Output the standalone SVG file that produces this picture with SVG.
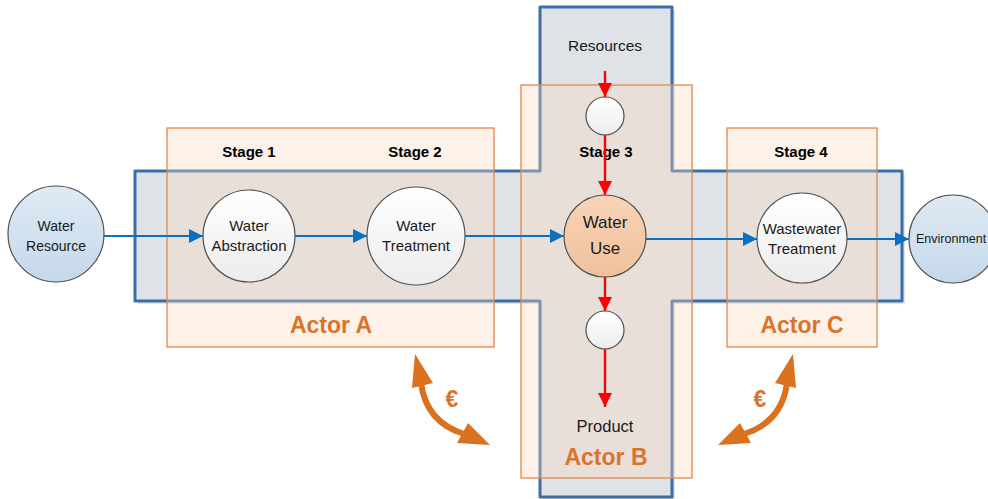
<svg xmlns="http://www.w3.org/2000/svg" width="988" height="499" viewBox="0 0 988 499">
<defs>
<linearGradient id="gWhite" x1="0" y1="0" x2="0" y2="1"><stop offset="0" stop-color="#ffffff"/><stop offset="1" stop-color="#ececec"/></linearGradient>
<linearGradient id="gBlue" x1="0" y1="0" x2="0" y2="1"><stop offset="0" stop-color="#dfeaf4"/><stop offset="1" stop-color="#c4d8ea"/></linearGradient>
<linearGradient id="gOrange" x1="0" y1="0" x2="0" y2="1"><stop offset="0" stop-color="#f7d4b8"/><stop offset="1" stop-color="#f0c09a"/></linearGradient>
<marker id="ab" viewBox="0 0 10 10" refX="10" refY="5" markerWidth="15" markerHeight="14" markerUnits="userSpaceOnUse" orient="auto"><path d="M0,0 L10,5 L0,10 Z" fill="#0b70c0"/></marker>
<marker id="ar" viewBox="0 0 10 10" refX="10" refY="5" markerWidth="15" markerHeight="14" markerUnits="userSpaceOnUse" orient="auto"><path d="M0,0 L10,5 L0,10 Z" fill="#ff0000"/></marker>
<style>
.txt{font-family:"Liberation Sans",Arial,sans-serif;fill:#1a1a1a;text-anchor:middle}
.stage{font-family:"Liberation Sans",Arial,sans-serif;font-weight:bold;font-size:15px;fill:#000;text-anchor:middle}
.actor{font-family:"Liberation Sans",Arial,sans-serif;font-weight:bold;font-size:23px;fill:#d9742b;text-anchor:middle}
.euro{font-family:"Liberation Sans",Arial,sans-serif;font-weight:bold;font-size:23px;fill:#d9742b;text-anchor:middle}
.box{fill:rgb(250,215,190);fill-opacity:0.35;stroke:#e3884a;stroke-width:1.3}
.node{stroke:#505050;stroke-width:1.2}
.flow{stroke:#0b70c0;stroke-width:2.2;fill:none;marker-end:url(#ab)}
.res{stroke:#ff0000;stroke-width:2.4;fill:none;marker-end:url(#ar)}
.pay{stroke:#d9711f;stroke-width:6;fill:none}
.payhead{fill:#d9711f}
</style>
</defs>
<rect width="988" height="499" fill="#ffffff"/>

<g id="system">
<path d="M138,174 H543 V10 H675 V174 H905 V304 H675 V500 H543 V304 H138 Z" fill="#c9c9c9" opacity="0.5"/>
<path d="M135,171 H540 V7 H672 V171 H902 V301 H672 V497 H540 V301 H135 Z" fill="#dfe3e8" stroke="#3b6ea8" stroke-width="3" stroke-linejoin="round"/>
</g>

<g id="actorA"><rect class="box" x="167" y="128" width="327" height="219"/><text class="actor" x="331" y="333">Actor A</text></g>
<g id="actorB"><rect class="box" x="521" y="85" width="171" height="393"/><text class="actor" x="606" y="465">Actor B</text></g>
<g id="actorC"><rect class="box" x="727" y="128" width="150" height="219"/><text class="actor" x="802" y="333">Actor C</text></g>

<g id="stages">
<text class="stage" x="249" y="157">Stage 1</text>
<text class="stage" x="415" y="157">Stage 2</text>
<text class="stage" x="606" y="157">Stage 3</text>
<text class="stage" x="801" y="157">Stage 4</text>
</g>

<g id="resources"><text class="txt" x="605" y="51" font-size="15.5">Resources</text></g>
<g id="product"><text class="txt" x="605" y="432" font-size="16.5">Product</text></g>

<g id="waterResource"><circle class="node" cx="56" cy="234" r="48" fill="url(#gBlue)"/><text class="txt" x="56" y="231" font-size="14">Water</text><text class="txt" x="56" y="251" font-size="14">Resource</text></g>
<g id="waterAbstraction"><circle class="node" cx="249" cy="236" r="46" fill="url(#gWhite)"/><text class="txt" x="249" y="231" font-size="15">Water</text><text class="txt" x="249" y="251" font-size="15">Abstraction</text></g>
<g id="waterTreatment"><circle class="node" cx="416" cy="236" r="49" fill="url(#gWhite)"/><text class="txt" x="416" y="231" font-size="15">Water</text><text class="txt" x="416" y="251" font-size="15">Treatment</text></g>
<g id="waterUse"><circle class="node" cx="605" cy="236" r="41" fill="url(#gOrange)"/><text class="txt" x="605" y="228" font-size="17">Water</text><text class="txt" x="605" y="254" font-size="17">Use</text></g>
<g id="wastewaterTreatment"><circle class="node" cx="802" cy="238" r="45" fill="url(#gWhite)"/><text class="txt" x="802" y="234" font-size="15">Wastewater</text><text class="txt" x="802" y="254" font-size="15">Treatment</text></g>
<g id="environment"><circle class="node" cx="953" cy="239" r="44" fill="url(#gBlue)"/><text class="txt" x="916" y="243" font-size="12.5" style="text-anchor:start">Environment</text></g>
<g id="inputNode"><circle class="node" cx="605" cy="116" r="19" fill="url(#gWhite)"/></g>
<g id="outputNode"><circle class="node" cx="605" cy="330" r="19" fill="url(#gWhite)"/></g>

<g id="connectors">
<line class="flow" x1="104" y1="236" x2="203" y2="236"/>
<line class="flow" x1="295" y1="236" x2="367" y2="236"/>
<line class="flow" x1="465" y1="236" x2="564" y2="236"/>
<line class="flow" x1="646" y1="239" x2="757" y2="239"/>
<line class="flow" x1="847" y1="239" x2="909" y2="239"/>
<line class="res" x1="605" y1="71" x2="605" y2="97"/>
<line class="res" x1="605" y1="135" x2="605" y2="195"/>
<line class="res" x1="605" y1="277" x2="605" y2="311"/>
<line class="res" x1="605" y1="349" x2="605" y2="407"/>
<g id="paymentLeft">
<path class="pay" d="M421,383 Q426,422 464,434"/>
<polygon class="payhead" points="415,354 412,388 433,383"/>
<polygon class="payhead" points="490,445 457,443 468,423"/>
</g>
<g id="paymentRight" transform="translate(1208,0) scale(-1,1)">
<path class="pay" d="M421,383 Q426,422 464,434"/>
<polygon class="payhead" points="415,354 412,388 433,383"/>
<polygon class="payhead" points="490,445 457,443 468,423"/>
</g>
</g>
<text class="euro" x="452" y="407">€</text>
<text class="euro" x="760" y="407">€</text>
</svg>
